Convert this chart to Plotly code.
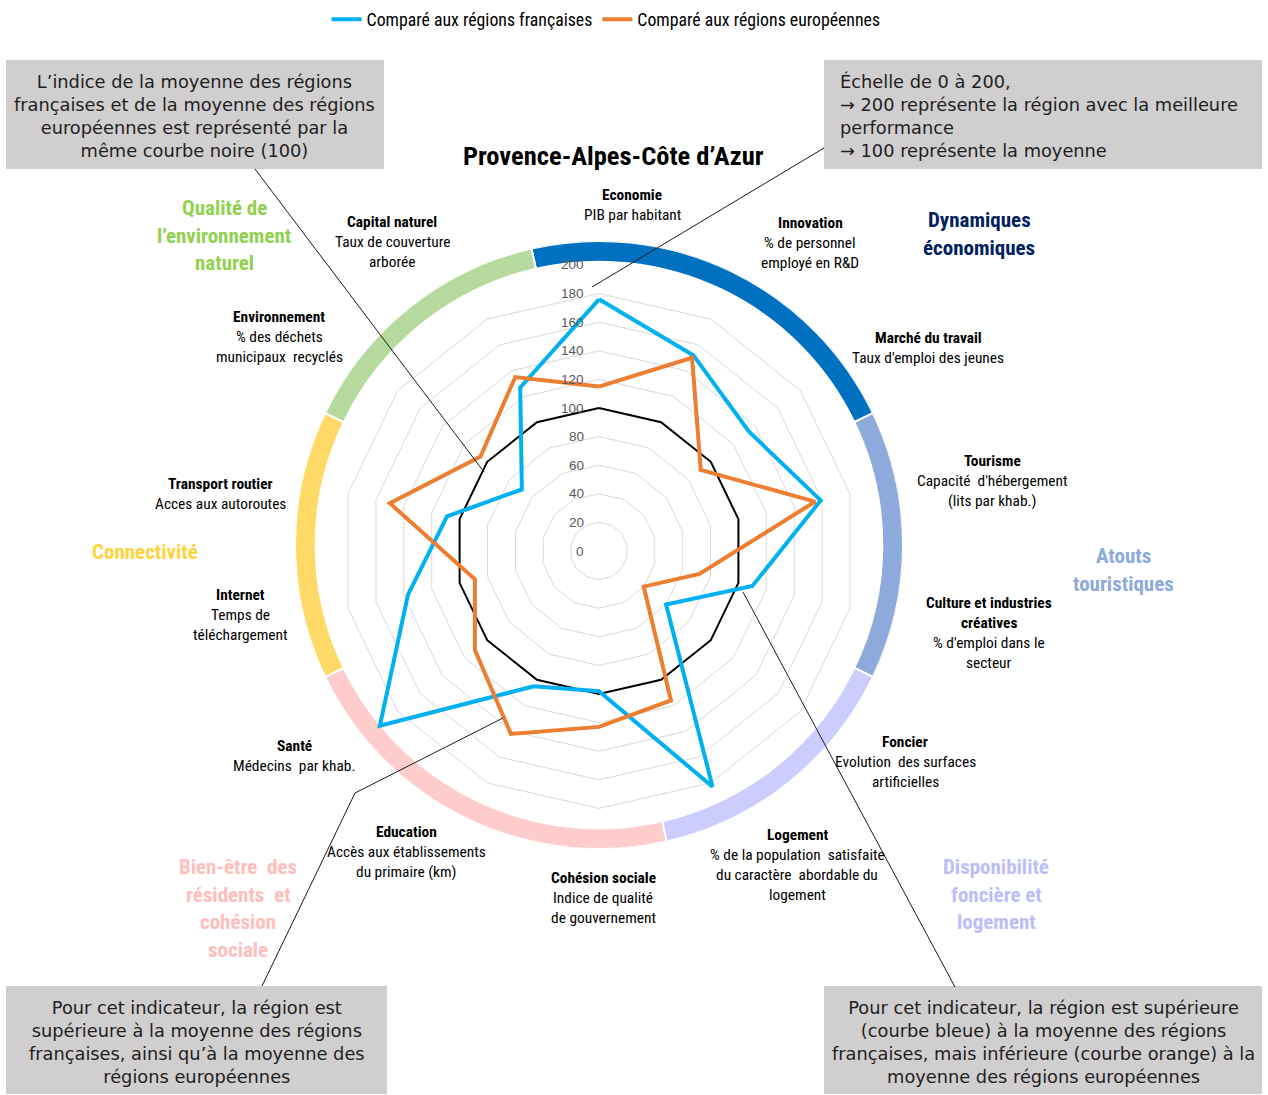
import plotly.graph_objects as go

W, H = 1268, 1095

# ---------------- data ----------------
categories = ["Economie", "Innovation", "Marché du travail", "Tourisme",
              "Culture et industries créatives", "Foncier", "Logement",
              "Cohésion sociale", "Education", "Santé", "Internet",
              "Transport routier", "Environnement", "Capital naturel"]
fr_values = [176, 152, 134, 159, 110, 60, 183, 98, 105, 196, 137, 109, 69, 127]
eu_values = [115, 150, 91, 155, 72, 40, 116, 123, 142, 111, 89, 150, 106, 135]
avg_values = [100] * 14
radial_ticks = [0, 20, 40, 60, 80, 100, 120, 140, 160, 180, 200]

groups = ["Dynamiques économiques", "Atouts touristiques",
          "Disponibilité foncière et logement",
          "Bien-être des résidents et cohésion sociale",
          "Connectivité", "Qualité de l'environnement naturel"]
group_counts = [3, 2, 2, 3, 2, 2]
group_colors = ["#0070C0", "#8EA9DB", "#CCCCFF", "#FFCCCC", "#FFD966", "#B6D99E"]

NARROW = "Liberation Sans Narrow, Arial Narrow, Roboto Condensed, DejaVu Sans Condensed, sans-serif"
BOXFONT = "DejaVu Sans, Noto Sans, sans-serif"
RMAX = 200


def px(x):
    return x / W


def py(y):
    return 1 - y / H


fig = go.Figure()

# ring of groups (drawn first, in the lower polar subplot)
step = 360 / len(categories)
start = -step / 2
for g, n, c in zip(groups, group_counts, group_colors):
    width = n * step
    fig.add_trace(go.Barpolar(r=[0.068], base=[0.932], theta=[start + width / 2],
                              width=[width], marker=dict(color=c, line=dict(color="white", width=2)),
                              showlegend=False, subplot="polar", name=g, hoverinfo="name"))
    start += width

closed = categories + [categories[0]]
fig.add_trace(go.Scatterpolar(r=avg_values + [avg_values[0]], theta=closed, mode="lines",
                              line=dict(color="black", width=2), showlegend=False,
                              subplot="polar2", hoverinfo="skip"))
fig.add_trace(go.Scatterpolar(r=fr_values + [fr_values[0]], theta=closed, mode="lines",
                              line=dict(color="#00B0F0", width=4),
                              name="Comparé aux régions françaises", subplot="polar2"))
fig.add_trace(go.Scatterpolar(r=eu_values + [eu_values[0]], theta=closed, mode="lines",
                              line=dict(color="#ED7D31", width=4),
                              name="Comparé aux régions européennes", subplot="polar2"))

# main data polar: center (599,551), radius 286 ; ring polar: center (599,545), radius 304
cx, cy, R = 599, 551, 286
cx2, cy2, R2 = 599, 545, 304

fig.update_layout(
    width=W, height=H, margin=dict(l=0, r=0, t=0, b=0),
    paper_bgcolor="white", plot_bgcolor="white",
    polar=dict(
        domain=dict(x=[px(cx2 - R2), px(cx2 + R2)], y=[py(cy2 + R2), py(cy2 - R2)]),
        bgcolor="rgba(0,0,0,0)",
        angularaxis=dict(direction="clockwise", rotation=90, visible=False),
        radialaxis=dict(range=[0, 1], visible=False),
    ),
    polar2=dict(
        domain=dict(x=[px(cx - R), px(cx + R)], y=[py(cy + R), py(cy - R)]),
        bgcolor="rgba(0,0,0,0)",
        gridshape="linear",
        angularaxis=dict(direction="clockwise", rotation=90, showticklabels=False,
                         showgrid=False, showline=False, ticks=""),
        radialaxis=dict(range=[0, RMAX], tickvals=radial_ticks[1:], showgrid=True,
                        gridcolor="#D9D9D9", gridwidth=1, showline=False, ticks="",
                        showticklabels=False),
    ),
    legend=dict(orientation="h", x=0.478, xanchor="center", y=0.999, yanchor="top",
                font=dict(family=NARROW, size=17.8, color="black"), itemwidth=30),
    showlegend=True,
)

annotations = []


def text(x, y, s, size=15.4, color="black", bold=False, family=NARROW, xanchor="center",
         align="center"):
    if bold:
        s = "<b>" + s + "</b>"
    annotations.append(dict(x=px(x), y=py(y), xref="paper", yref="paper", text=s,
                            showarrow=False, xanchor=xanchor, yanchor="middle", align=align,
                            font=dict(family=family, size=size, color=color)))


# radial tick labels, horizontal, just left of the vertical (Economie) axis
for t in radial_ticks:
    text(cx - 13, cy - R * t / RMAX, str(t), size=13.5, color="#595959",
         family="Liberation Sans, Arial, sans-serif", xanchor="right")

# title
text(613, 155, "Provence-Alpes-Côte d’Azur", size=26.5, bold=True)

# category labels: (x, y_first, lines)
cat_labels = [
    (632, 195, ["Economie", "PIB par habitant"]),
    (810, 223, ["Innovation", "% de personnel", "employé en R&D"]),
    (928, 338, ["Marché du travail", "Taux d'emploi des jeunes"]),
    (992, 461, ["Tourisme", "Capacité  d'hébergement", "(lits par khab.)"]),
    (989, 603, ["Culture et industries", "créatives", "% d'emploi dans le", "secteur"]),
    (905, 742, ["Foncier", "Evolution  des surfaces", "artificielles"]),
    (797, 835, ["Logement", "% de la population  satisfaite", "du caractère  abordable du", "logement"]),
    (603, 878, ["Cohésion sociale", "Indice de qualité", "de gouvernement"]),
    (406, 832, ["Education", "Accès aux établissements", "du primaire (km)"]),
    (294, 746, ["Santé", "Médecins  par khab."]),
    (240, 595, ["Internet", "Temps de", "téléchargement"]),
    (220, 484, ["Transport routier", "Acces aux autoroutes"]),
    (279, 317, ["Environnement", "% des déchets", "municipaux  recyclés"]),
    (392, 222, ["Capital naturel", "Taux de couverture", "arborée"]),
]
for x, y, lines in cat_labels:
    bold_idx = 2 if lines[0] == "Culture et industries" else 1
    for i, ln in enumerate(lines):
        text(x, y + 20 * i, ln, size=15.4, bold=(i < bold_idx))

# group labels
group_labels = [
    (979, 220, ["Dynamiques", "économiques"], "#002060"),
    (1123, 556, ["Atouts", "touristiques"], "#8EA9DB"),
    (996, 867, ["Disponibilité", "foncière et", "logement"], "#BDBDFB"),
    (238, 867, ["Bien-être  des", "résidents  et", "cohésion", "sociale"], "#FFBDBD"),
    (145, 552, ["Connectivité"], "#FFD43B"),
    (224, 208, ["Qualité de", "l’environnement", "naturel"], "#92D050"),
]
for x, y, lines, col in group_labels:
    for i, ln in enumerate(lines):
        text(x, y + 27.5 * i, ln, size=21, color=col, bold=True)

# grey boxes
shapes = []
boxes = [
    (6, 60, 384, 169, "center", 195,
     ["L’indice de la moyenne des régions", "françaises et de la moyenne des régions",
      "européennes est représenté par la", "même courbe noire (100)"]),
    (824, 60, 1262, 169, "left", 838,
     ["Échelle de 0 à 200,", "→ 200 représente la région avec la meilleure",
      "performance", "→ 100 représente la moyenne"]),
    (6, 986, 387, 1094, "center", 197,
     ["Pour cet indicateur, la région est", "supérieure à la moyenne des régions",
      "françaises, ainsi qu’à la moyenne des", "régions européennes"]),
    (824, 986, 1262, 1094, "center", 1043,
     ["Pour cet indicateur, la région est supérieure", "(courbe bleue) à la moyenne des régions",
      "françaises, mais inférieure (courbe orange) à la", "moyenne des régions européennes"]),
]
for x0, y0, x1, y1, align, tx, lines in boxes:
    shapes.append(dict(type="rect", xref="paper", yref="paper", x0=px(x0), x1=px(x1),
                       y0=py(y1), y1=py(y0), fillcolor="#D0CECE", line=dict(width=0), layer="below"))
    text(tx, (y0 + y1) / 2 + 1.5, "<br>".join(lines), size=17.8, color="#1E1E1E", family=BOXFONT,
         xanchor=("left" if align == "left" else "center"), align=align)

# connector lines
connectors = [
    [(255, 169), (484, 472)],
    [(824, 148), (592, 287)],
    [(262, 986), (355, 793), (503, 718)],
    [(955, 987), (743, 592)],
]
for pts in connectors:
    for (xa, ya), (xb, yb) in zip(pts[:-1], pts[1:]):
        shapes.append(dict(type="line", xref="paper", yref="paper", x0=px(xa), y0=py(ya),
                           x1=px(xb), y1=py(yb), line=dict(color="#1A1A1A", width=1)))

fig.update_layout(annotations=annotations, shapes=shapes)

fig.write_html("out.html", config={"displayModeBar": False},
               post_script="document.body.style.margin='0px';")
